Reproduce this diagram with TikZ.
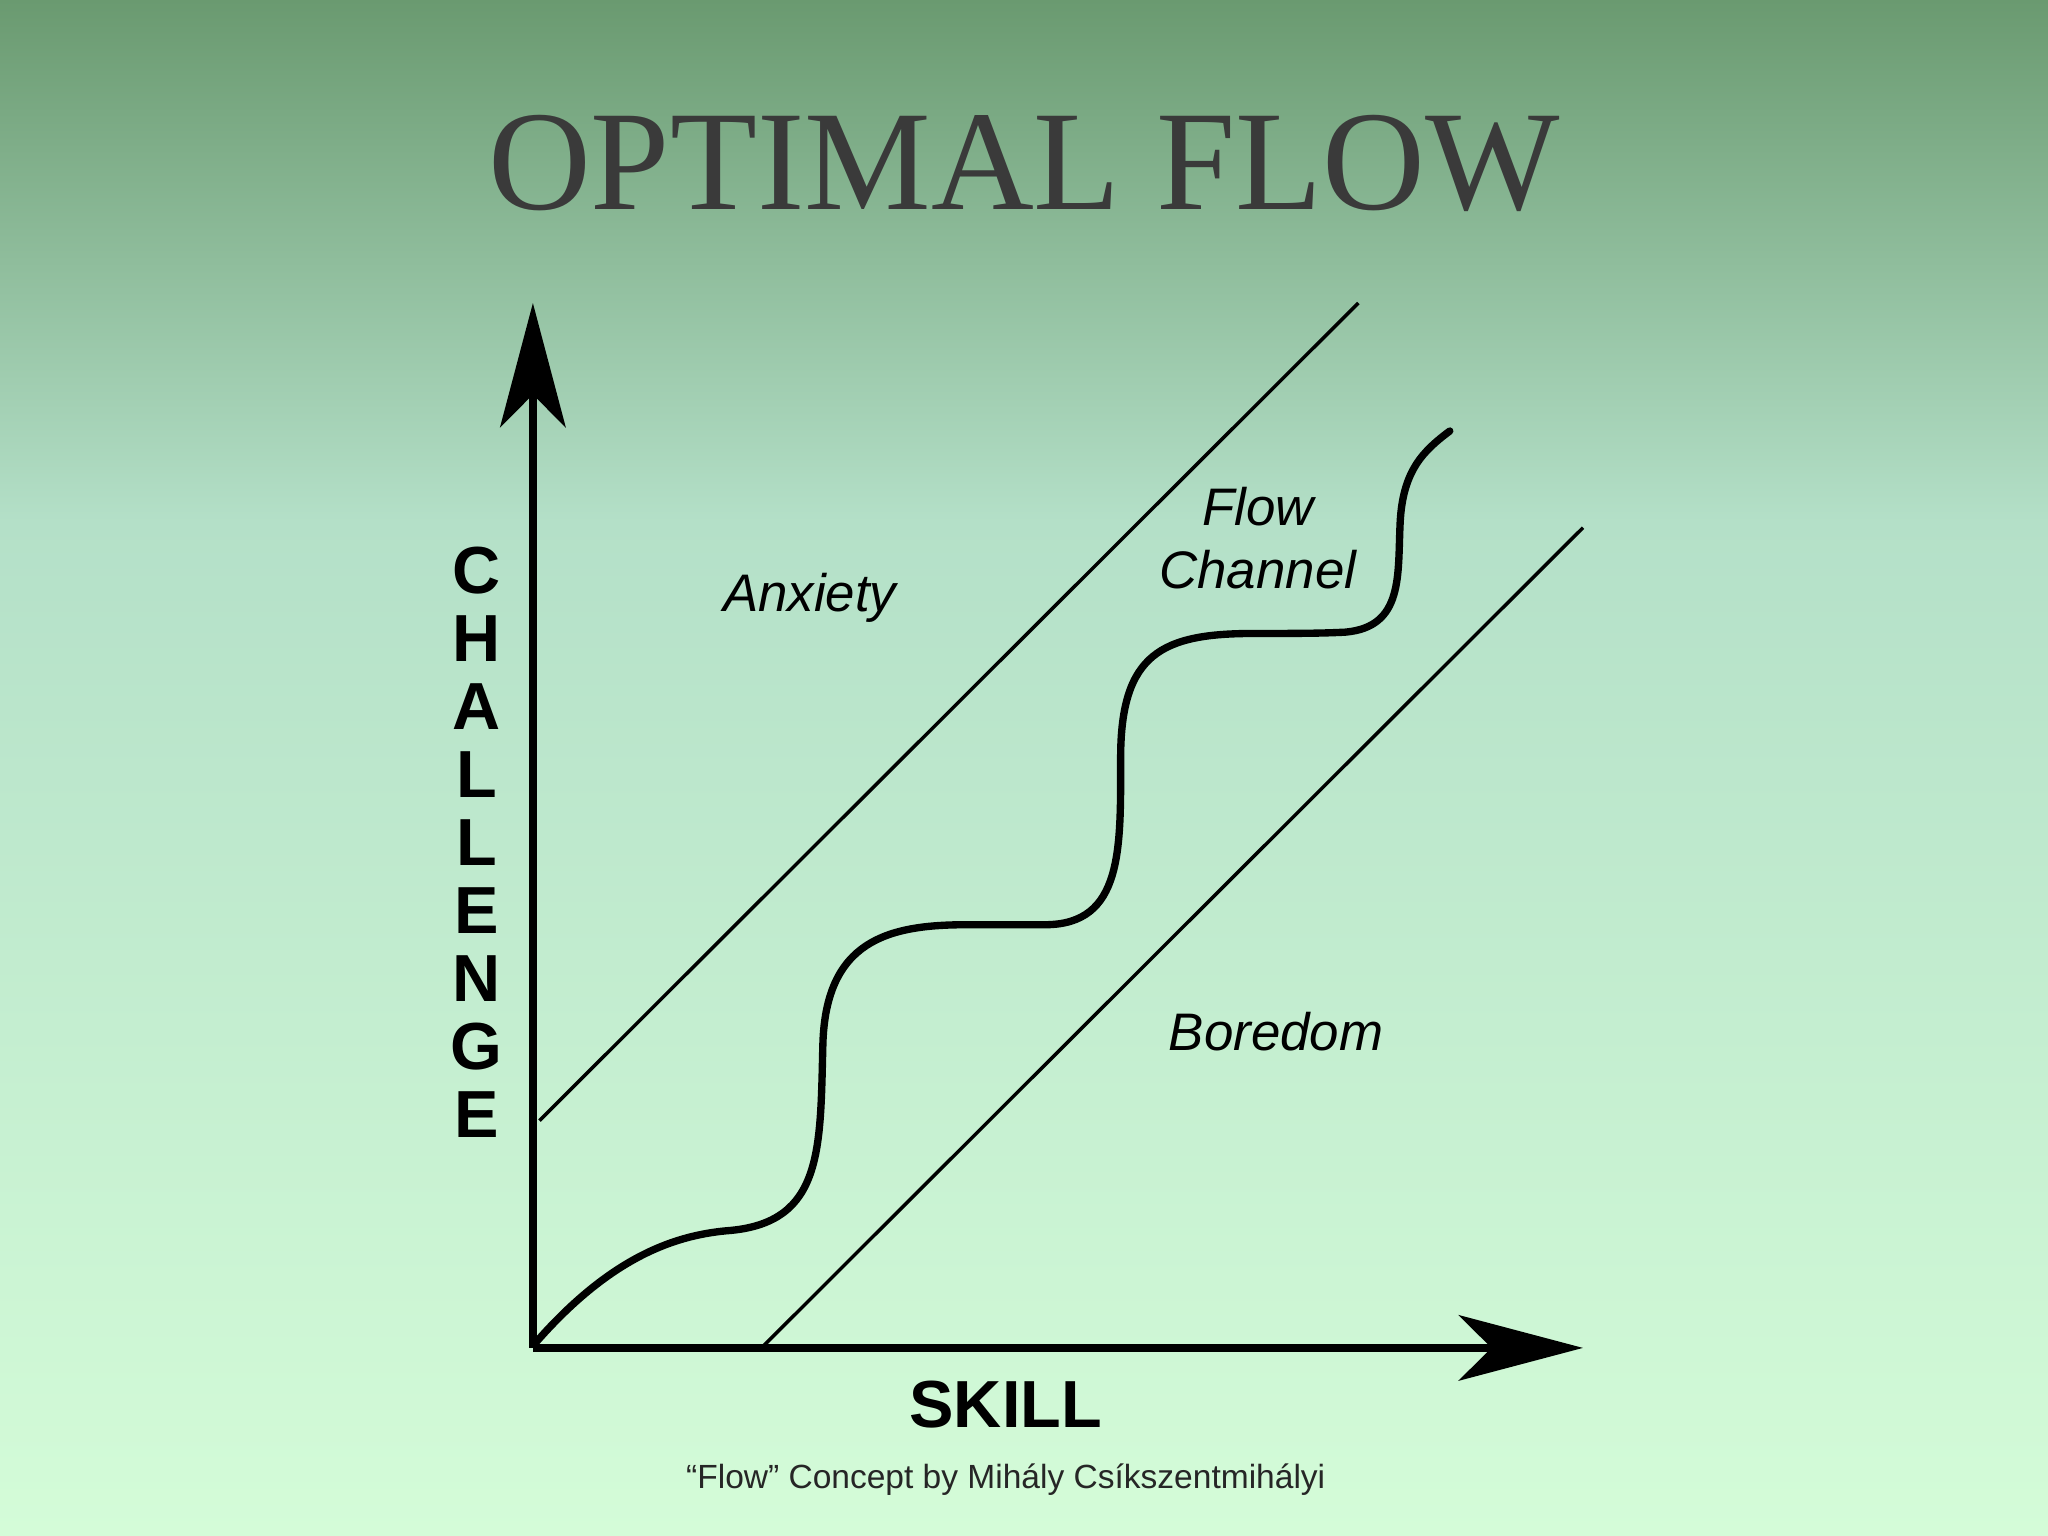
\documentclass[tikz,border=0pt]{standalone}
\usepackage{fontspec}
\setmainfont{Liberation Serif}
\setsansfont{Liberation Sans}
\usetikzlibrary{arrows.meta}
\definecolor{topg}{HTML}{6A9A70}
\definecolor{midg}{HTML}{B4E0C8}
\definecolor{botg}{HTML}{D4FCD8}
\definecolor{titlec}{HTML}{3A3A3A}
\tikzset{
  axis/.style={line width=1.9pt,-{Stealth[length=0.95cm,width=0.5cm,inset=0.25cm]}},
  diag/.style={line width=0.75pt},
  wave/.style={line width=1.6pt,line cap=round},
  region/.style={font=\sffamily\itshape\fontsize{11.5pt}{13.5pt}\selectfont,align=center},
  axlab/.style={font=\sffamily\bfseries\fontsize{14.5pt}{15pt}\selectfont,inner sep=0pt}
}
\begin{document}
\begin{tikzpicture}[x=0.01cm,y=-0.01cm]
\useasboundingbox (0,0) rectangle (1568,1176);
\shade[top color=topg,bottom color=midg] (0,0) rectangle (1568,400);
\shade[top color=midg,bottom color=botg] (0,399) rectangle (1568,1176);
\node[font=\fontsize{31pt}{33pt}\selectfont,text=titlec] (title) at (784,125) {OPTIMAL FLOW};
\coordinate (O) at (408,1032);
\coordinate (ytip) at (408,232);
\coordinate (xtip) at (1212,1032);
\draw[axis] (O) -- (ytip);
\draw[axis] (O) -- (xtip);
\coordinate (u1) at (413,858); \coordinate (u2) at (1040,232);
\coordinate (l1) at (585,1030); \coordinate (l2) at (1212,404);
\draw[diag] (u1) -- (u2);
\draw[diag] (l1) -- (l2);
\draw[wave] (411,1027) .. controls (470,960) and (520,945) .. (560,942)
  .. controls (630,935) and (628,880) .. (630,800)
  .. controls (632,720) and (680,708) .. (740,708)
  .. controls (760,708) and (780,708) .. (800,708)
  .. controls (860,708) and (858,650) .. (858,580)
  .. controls (858,500) and (890,485) .. (960,485)
  .. controls (990,485) and (1010,485) .. (1030,484)
  .. controls (1075,480) and (1070,440) .. (1072,400)
  .. controls (1074,360) and (1090,345) .. (1110,330);
\node[region] (anx) at (620,458) {Anxiety};
\node[region] (flow) at (963,412) {Flow\\Channel};
\node[region] (bor) at (977,790) {Boredom};
\foreach \l [count=\i] in {C,H,A,L,L,E,N,G,E}
  \node[axlab] (ch\i) at (365,{437+(\i-1)*52}) {\l};
\node[axlab] (skill) at (770,1075) {SKILL};
\node[font=\sffamily\fontsize{7.3pt}{8pt}\selectfont,text=black!85] (cap) at (770,1133) {“Flow” Concept by Mihály Csíkszentmihályi};
\end{tikzpicture}
\end{document}
